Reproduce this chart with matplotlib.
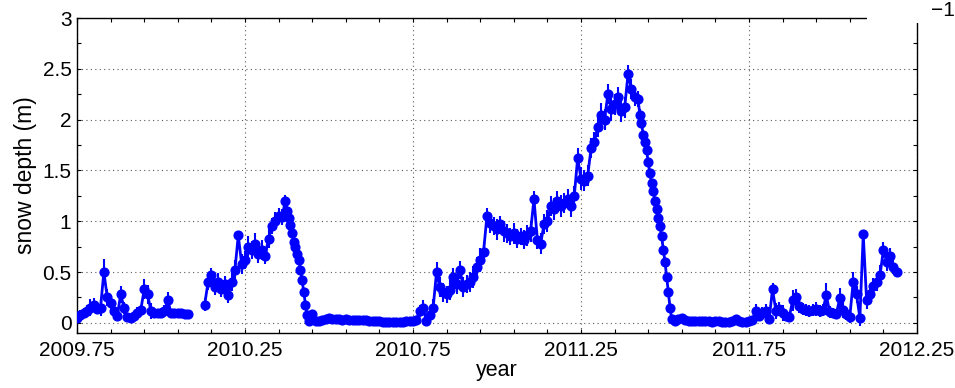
import numpy as np
import matplotlib
matplotlib.use("Agg")
import matplotlib.pyplot as plt
from matplotlib.ticker import FixedLocator, FormatStrFormatter
from matplotlib.patches import Rectangle

plt.rcParams["font.family"] = ["Liberation Sans", "DejaVu Sans"]

# --- data: snow depth (m) read off the picture, sampled in segments ---
# each segment: start year, sample step (yr), depths, error half-widths
seg1_start, seg1_step = 2009.75, 0.01
seg1_depth = [0.05, 0.08, 0.10, 0.12, 0.15, 0.18, 0.14, 0.15, 0.50, 0.25,
              0.20, 0.12, 0.07, 0.28, 0.15, 0.06, 0.05, 0.07, 0.10, 0.13,
              0.33, 0.28, 0.12, 0.10, 0.10, 0.10, 0.12, 0.22, 0.10, 0.10,
              0.10, 0.10, 0.09, 0.09]
seg1_err = [0.04, 0.05, 0.05, 0.06, 0.08, 0.06, 0.05, 0.08, 0.13, 0.08,
            0.06, 0.05, 0.04, 0.08, 0.06, 0.04, 0.04, 0.05, 0.06, 0.05,
            0.10, 0.09, 0.08, 0.05, 0.04, 0.05, 0.06, 0.08, 0.04, 0.03,
            0.03, 0.03, 0.03, 0.03]

seg2_start, seg2_step = 2010.13, 0.01
seg2_depth = [0.18, 0.40, 0.47, 0.35, 0.40, 0.33, 0.38, 0.27, 0.40, 0.52,
              0.86, 0.58, 0.62, 0.75, 0.72, 0.78, 0.68, 0.72, 0.66, 0.83,
              0.95, 1.00, 1.05, 1.04, 1.20]
seg2_err = [0.06, 0.08, 0.07, 0.08, 0.09, 0.08, 0.08, 0.07, 0.09, 0.10,
            0.02, 0.10, 0.09, 0.10, 0.09, 0.10, 0.09, 0.10, 0.08, 0.09,
            0.08, 0.09, 0.08, 0.08, 0.06]

# 2010 melt
seg3_start, seg3_step = 2010.375, 0.005
seg3_depth = [1.10, 1.03, 0.96, 0.88, 0.80, 0.75, 0.68, 0.62, 0.52, 0.42,
              0.30, 0.18, 0.08, 0.02]
seg3_err = [0.05, 0.06, 0.04, 0.03, 0.03, 0.03, 0.03, 0.03, 0.03, 0.03,
            0.03, 0.03, 0.02, 0.02]

seg4_start, seg4_step = 2010.45, 0.01
seg4_depth = [0.09, 0.02, 0.02, 0.03, 0.04, 0.05, 0.04, 0.04, 0.04, 0.03,
              0.04, 0.03, 0.03, 0.03, 0.03, 0.03, 0.03, 0.02, 0.02, 0.02,
              0.02, 0.01, 0.01, 0.01, 0.01, 0.01, 0.01, 0.01, 0.02, 0.02,
              0.02, 0.03, 0.12, 0.15, 0.02, 0.08, 0.15, 0.50, 0.35, 0.30,
              0.28, 0.32, 0.45, 0.38, 0.52, 0.35, 0.38, 0.40, 0.45, 0.55,
              0.62, 0.70, 1.05, 0.98, 0.95, 0.92, 0.97, 0.90, 0.88, 0.85,
              0.88, 0.83, 0.85, 0.82, 0.86, 0.90, 1.22, 0.82, 0.78, 0.97,
              1.00, 1.15, 1.12, 1.20, 1.15, 1.18, 1.22, 1.15, 1.25, 1.62,
              1.42, 1.40, 1.45, 1.72, 1.78, 1.93, 2.05, 2.00, 2.25, 2.10,
              2.15, 2.22, 2.08, 2.12, 2.45, 2.30, 2.22, 2.20]
seg4_err = [0.04, 0.02, 0.02, 0.02, 0.02, 0.02, 0.02, 0.02, 0.02, 0.02,
            0.02, 0.02, 0.02, 0.02, 0.02, 0.02, 0.02, 0.02, 0.02, 0.02,
            0.02, 0.02, 0.02, 0.02, 0.02, 0.02, 0.02, 0.02, 0.02, 0.02,
            0.02, 0.03, 0.06, 0.07, 0.04, 0.06, 0.08, 0.10, 0.10, 0.09,
            0.08, 0.10, 0.09, 0.10, 0.09, 0.10, 0.09, 0.10, 0.11, 0.10,
            0.12, 0.10, 0.08, 0.10, 0.09, 0.10, 0.08, 0.10, 0.09, 0.08,
            0.10, 0.09, 0.08, 0.09, 0.10, 0.10, 0.08, 0.09, 0.10, 0.10,
            0.11, 0.10, 0.11, 0.10, 0.11, 0.10, 0.10, 0.11, 0.10, 0.10,
            0.11, 0.10, 0.10, 0.10, 0.10, 0.10, 0.11, 0.10, 0.10, 0.11,
            0.10, 0.10, 0.10, 0.10, 0.09, 0.10, 0.09, 0.08]

# 2011 melt
seg5_start, seg5_step = 2011.425, 0.005
seg5_depth = [2.05, 1.97, 1.85, 1.78, 1.70, 1.58, 1.47, 1.38, 1.30, 1.20,
              1.12, 1.03, 0.95, 0.85, 0.72, 0.60, 0.45, 0.30, 0.15, 0.04]
seg5_err = [0.05, 0.05, 0.04, 0.04, 0.04, 0.04, 0.03, 0.03, 0.03, 0.03,
            0.03, 0.03, 0.03, 0.03, 0.03, 0.03, 0.03, 0.03, 0.02, 0.02]

seg6_start, seg6_step = 2011.53, 0.01
seg6_depth = [0.02, 0.04, 0.05, 0.03, 0.02, 0.02, 0.02, 0.02, 0.02, 0.02,
              0.02, 0.01, 0.02, 0.02, 0.01, 0.01, 0.01, 0.02, 0.04, 0.02,
              0.01, 0.01, 0.02, 0.03, 0.12, 0.07, 0.10, 0.12, 0.04, 0.33,
              0.12, 0.14, 0.10, 0.07, 0.06, 0.22, 0.25, 0.17, 0.14, 0.13,
              0.12, 0.13, 0.14, 0.12, 0.13, 0.27, 0.11, 0.10, 0.09, 0.24,
              0.13, 0.09, 0.06, 0.40, 0.28, 0.05, 0.87, 0.22, 0.28, 0.36,
              0.40, 0.47, 0.72, 0.60, 0.66, 0.55, 0.50]
seg6_err = [0.02, 0.02, 0.02, 0.02, 0.02, 0.02, 0.02, 0.02, 0.02, 0.02,
            0.02, 0.02, 0.02, 0.02, 0.02, 0.02, 0.02, 0.02, 0.03, 0.02,
            0.02, 0.02, 0.02, 0.03, 0.07, 0.05, 0.06, 0.07, 0.04, 0.06,
            0.08, 0.07, 0.08, 0.05, 0.05, 0.10, 0.08, 0.07, 0.06, 0.06,
            0.06, 0.06, 0.07, 0.06, 0.06, 0.12, 0.06, 0.05, 0.05, 0.10,
            0.08, 0.06, 0.06, 0.10, 0.08, 0.08, 0.01, 0.08, 0.09, 0.08,
            0.09, 0.10, 0.08, 0.09, 0.08, 0.07, 0.05]

x_major = [2009.75, 2010.25, 2010.75, 2011.25, 2011.75, 2012.25]
y_major = [0, 0.5, 1, 1.5, 2, 2.5, 3]


def seg_years(start, step, vals):
    return start + step * np.arange(len(vals))


seg1_x = seg_years(seg1_start, seg1_step, seg1_depth)
rest = [(seg2_start, seg2_step, seg2_depth, seg2_err),
        (seg3_start, seg3_step, seg3_depth, seg3_err),
        (seg4_start, seg4_step, seg4_depth, seg4_err),
        (seg5_start, seg5_step, seg5_depth, seg5_err),
        (seg6_start, seg6_step, seg6_depth, seg6_err)]
rest_x = np.concatenate([seg_years(s, st, d) for s, st, d, e in rest])
rest_y = np.concatenate([d for s, st, d, e in rest])
rest_e = np.concatenate([e for s, st, d, e in rest])

fig = plt.figure(figsize=(9.55, 3.88), dpi=100)
ax = fig.add_axes([77 / 955, 55 / 388, 840 / 955, 315 / 388])

blue = (0, 0, 1)
for xs, ys, es in [(seg1_x, seg1_depth, seg1_err), (rest_x, rest_y, rest_e)]:
    ax.errorbar(xs, ys, yerr=es, fmt="o-", color=blue, ecolor=blue,
                markersize=6.3, linewidth=2.0, elinewidth=1.5, capsize=0,
                zorder=3)

ax.set_xlim(2009.75, 2012.25)
ax.set_ylim(-0.1, 3)
ax.xaxis.set_major_locator(FixedLocator(x_major))
ax.xaxis.set_minor_locator(FixedLocator(np.arange(2009.75, 2012.26, 0.1)))
ax.yaxis.set_major_locator(FixedLocator(y_major))
ax.yaxis.set_minor_locator(FixedLocator(np.arange(0, 3.01, 0.25)))
ax.xaxis.set_major_formatter(FormatStrFormatter("%g"))
ax.yaxis.set_major_formatter(FormatStrFormatter("%g"))

ax.tick_params(which="both", direction="in", top=True, right=True,
               length=3, width=0.8, labelsize=15)
ax.tick_params(axis="x", pad=6)
ax.tick_params(axis="y", pad=4)
ax.grid(True, which="major", linestyle=(0, (1, 3)), linewidth=0.8,
        color="0.35")
ax.set_axisbelow(True)
for sp in ax.spines.values():
    sp.set_linewidth(1.0)

ax.set_xlabel("year", fontsize=15.5, labelpad=0)
ax.set_ylabel("snow depth (m)", fontsize=16.5, labelpad=4)

# white patch hiding top-right corner, with stray "-1" label
fig.patches.append(Rectangle((867 / 955, 365 / 388), 60 / 955, 12 / 388,
                             transform=fig.transFigure, facecolor="white",
                             edgecolor="none", zorder=10))
fig.text(943 / 955, 378 / 388, "\u22121", fontsize=15, ha="center",
         va="center")

fig.savefig("out.png", dpi=100)
plt.close(fig)
